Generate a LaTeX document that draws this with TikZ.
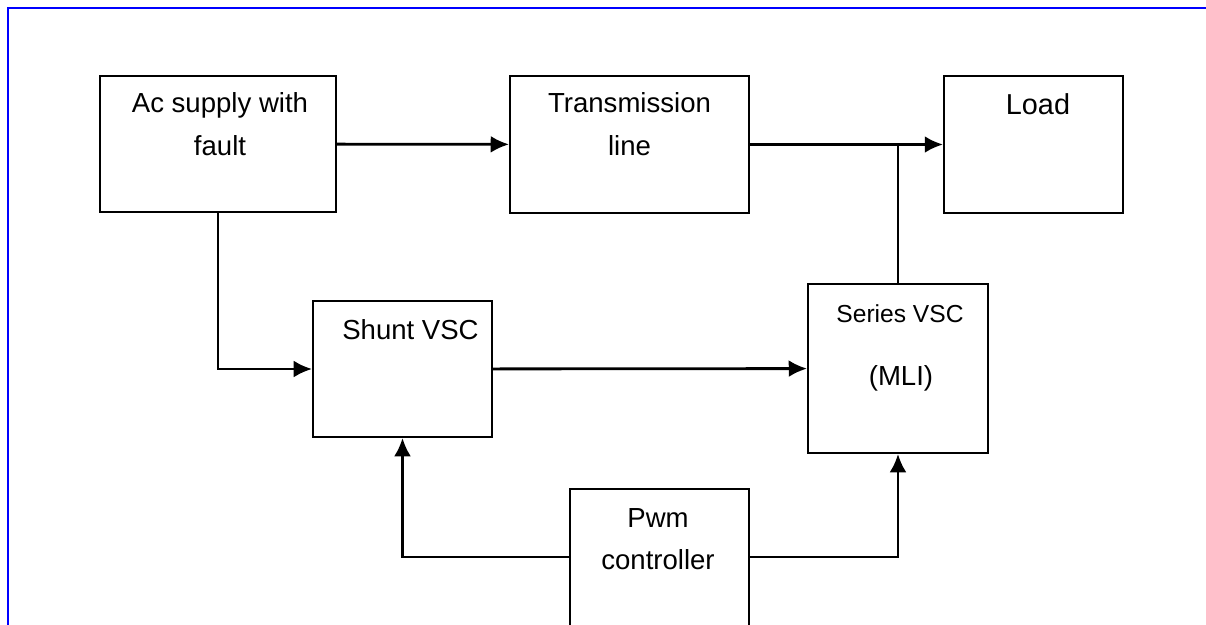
\documentclass[tikz,border=0pt]{standalone}
\usepackage{fontspec}
\setmainfont{Liberation Sans}
\usetikzlibrary{arrows.meta,positioning}

\tikzset{
  block/.style={draw, line width=1.35pt, minimum width=#1, inner sep=0pt},
  lbl/.style={anchor=base, align=center, inner sep=0pt,
    font=\fontsize{19.6}{30.5}\selectfont},
  conn/.style={line width=2pt, -{Latex[length=13pt,width=12pt]}},
  wire/.style={line width=1.8pt},
}

\begin{document}
\begin{tikzpicture}[x=0.025cm,y=-0.025cm]
  \useasboundingbox (0,0) rectangle (1206,625);
  \clip (0,0) rectangle (1206,625);
  \draw[blue, line width=1.4pt] (8,640) -- (8,8) -- (1210,8);

  % blocks
  \node[block=5.9cm, minimum height=3.4cm] (ac) at (218,144) {};
  \node[block=5.975cm, minimum height=3.425cm] (tl) at (629.5,144.5) {};
  \node[block=4.475cm, minimum height=3.425cm] (load) at (1033.5,144.5) {};
  \node[block=4.475cm, minimum height=3.4cm] (shunt) at (402.5,369) {};
  \node[block=4.5cm, minimum height=4.225cm] (series) at (898,368.5) {};
  \node[block=4.475cm, minimum height=3.6cm] (pwm) at (659.5,561) {};

  % texts
  \node[lbl] at ([shift={(2,80)}] ac.north) {Ac supply with\\fault};
  \node[lbl] at ([shift={(0,80)}] tl.north) {Transmission\\line};
  \node[lbl, font=\fontsize{20.5}{30}\selectfont] at ([shift={(4.5,39)}] load.north) {Load};
  \node[lbl] at ([shift={(8,39)}] shunt.north) {Shunt VSC};
  \node[lbl, font=\fontsize{17.5}{30}\selectfont] at ([shift={(2,39)}] series.north) {Series VSC};
  \node[lbl] at ([shift={(3,102)}] series.north) {(MLI)};
  \node[lbl, font=\fontsize{19.6}{29.8}\selectfont] at ([shift={(-1.5,81)}] pwm.north) {Pwm\\controller};

  % connectors
  \coordinate (tap) at (series.north |- load.west);
  \coordinate (pwml) at ([shift={(0,-4)}] pwm.west);
  \coordinate (pwmr) at ([shift={(0,-4)}] pwm.east);

  \draw[conn] (ac) -- (tl);
  \draw[conn] (tl) -- (load);
  \draw[wire] (series.north) -- (tap);
  \draw[conn] (ac.south) |- (shunt.west);
  \draw[conn] (shunt) -- (series);
  \draw[conn] (pwml) -| (shunt.south);
  \draw[conn] (pwmr) -| (series.south);
\end{tikzpicture}
\end{document}
